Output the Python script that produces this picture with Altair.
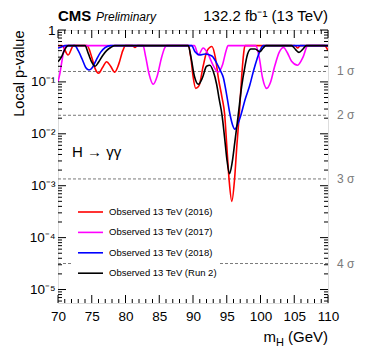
import altair as alt
import pandas as pd

FONT = "Liberation Sans"

names = ["Observed 13 TeV (2016)", "Observed 13 TeV (2017)",
         "Observed 13 TeV (2018)", "Observed 13 TeV (Run 2)"]
colors = ["#ff0000", "#ff00ff", "#0000ff", "#000000"]

m_2016 = [70, 70.6, 71.5, 72.3, 74.3, 75.0, 75.5, 76.0, 76.6, 77.2, 77.8, 78.4, 79.0, 79.6, 80.0,
          81.0, 81.4, 81.8, 89.3, 89.7, 90.0, 90.4, 90.9, 91.5, 92.1, 92.8, 93.3, 93.8, 94.3, 94.7,
          95.0, 95.35, 95.75, 96.15, 96.5, 96.85, 97.2, 97.5, 97.7, 105.1, 105.5, 105.9, 109.5, 110]
p_2016 = [0.5, 0.5, 0.33, 0.5, 0.5, 0.3, 0.18, 0.147, 0.19, 0.245, 0.2, 0.154, 0.22, 0.4, 0.5,
          0.5, 0.46, 0.5, 0.5, 0.28, 0.13, 0.075, 0.085, 0.2, 0.4, 0.48, 0.3, 0.11, 0.05, 0.023,
          0.006, 0.0013, 0.0005, 0.0013, 0.006, 0.023, 0.12, 0.35, 0.5, 0.5, 0.45, 0.5, 0.5, 0.4]

m_2017 = [70, 70.3, 70.6, 70.9, 71.2, 82.6, 83.0, 83.5, 84.1, 84.7, 85.3, 85.8, 86.1, 90.2, 90.8,
          91.5, 92.2, 92.9, 93.7, 94.4, 94.9, 95.2, 99.3, 99.8, 100.3, 100.9, 101.5, 102.1, 102.8,
          103.4, 104.0, 104.6, 105.5, 106.3, 107.0, 110]
p_2017 = [0.1, 0.15, 0.26, 0.42, 0.5, 0.5, 0.3, 0.14, 0.09, 0.13, 0.28, 0.45, 0.5, 0.5, 0.33,
          0.45, 0.35, 0.22, 0.155, 0.22, 0.4, 0.5, 0.5, 0.3, 0.12, 0.075, 0.1, 0.2, 0.38,
          0.46, 0.36, 0.25, 0.21, 0.3, 0.5, 0.5]

m_2018 = [70, 70.5, 71.0, 72.5, 73.0, 73.6, 74.1, 74.6, 75.1, 75.7, 76.3, 77.0, 77.8, 89.8, 90.3,
          91.0, 91.8, 92.8, 93.5, 94.0, 94.5, 95.0, 95.5, 95.85, 96.2, 96.6, 97.1, 97.7, 98.4,
          99.0, 99.5, 100.0, 100.4, 110]
p_2018 = [0.45, 0.47, 0.5, 0.5, 0.4, 0.27, 0.19, 0.17, 0.19, 0.27, 0.37, 0.46, 0.5, 0.5, 0.38,
          0.33, 0.345, 0.315, 0.23, 0.17, 0.12, 0.055, 0.023, 0.015, 0.0123, 0.015, 0.023, 0.045,
          0.085, 0.17, 0.28, 0.42, 0.5, 0.5]

m_run2 = [70, 70.5, 71.0, 71.5, 74.0, 74.5, 75.0, 75.5, 76.0, 76.6, 77.2, 77.8, 78.4, 89.3, 89.7,
          90.2, 90.8, 91.4, 92.0, 92.5, 93.0, 93.5, 93.9, 94.3, 94.7, 95.05, 95.4, 95.8, 96.2,
          96.7, 97.2, 97.7, 98.1, 98.6, 99.2, 99.9, 100.4, 100.8, 104.6, 105.2, 105.7, 106.3,
          106.8, 110]
p_run2 = [0.245, 0.3, 0.42, 0.5, 0.5, 0.35, 0.24, 0.2, 0.24, 0.32, 0.4, 0.46, 0.5, 0.5, 0.3,
          0.13, 0.09, 0.12, 0.2, 0.21, 0.16, 0.09, 0.045, 0.023, 0.008, 0.003, 0.0017, 0.0028,
          0.007, 0.023, 0.08, 0.2, 0.35, 0.43, 0.43, 0.38, 0.45, 0.5, 0.5, 0.42, 0.37, 0.43,
          0.5, 0.5]

sigma_labels = ["1 σ", "2 σ", "3 σ", "4 σ"]
sigma_p = [0.1587, 0.02275, 0.00135, 3.17e-5]

x_labels = [70, 75, 80, 85, 90, 95, 100, 105, 110]
y_labels = [1, 0.1, 0.01, 0.001, 1e-4, 1e-5]

W, H = 270, 273
XMIN, XMAX = 70, 110
YMIN, YMAX = 5.5e-6, 1

series = [(m_2016, p_2016), (m_2017, p_2017), (m_2018, p_2018), (m_run2, p_run2)]
rows = []
for name, (ms, ps) in zip(names, series):
    for m, p in zip(ms, ps):
        rows.append({"series": name, "m": m, "p": p})
df = pd.DataFrame(rows)

xs = alt.Scale(domain=[XMIN, XMAX], nice=False, zero=False)
ys = alt.Scale(type="log", domain=[YMIN, YMAX], nice=False)

x_axis = alt.Axis(values=x_labels, ticks=False, domain=False, grid=False, title=None,
                  labelOverlap=False, labelFlush=False, labelFontSize=13.5, labelPadding=6,
                  labelColor="black", labelFont=FONT)
y_axis = alt.Axis(values=y_labels, ticks=False, domain=False, grid=False,
                  labelOverlap=False, labelFlush=False,
                  labelExpr="['1','10⁻¹','10⁻²','10⁻³','10⁻⁴','10⁻⁵'][round(-log(datum.value)/LN10)]",
                  labelFontSize=13.5, labelPadding=3, labelColor="black", labelFont=FONT,
                  title="Local p-value", titleAnchor="end", titleFontSize=14.5,
                  titleFontWeight="normal", titleFont=FONT, titlePadding=3)

X = lambda f: alt.X(f, scale=xs, axis=x_axis)
Y = lambda f: alt.Y(f, scale=ys, axis=y_axis)

lines = alt.Chart(df).mark_line(strokeWidth=1.6, clip=True, interpolate="monotone").encode(
    x=X("m:Q"), y=Y("p:Q"),
    color=alt.Color("series:N", scale=alt.Scale(domain=names, range=colors), legend=None),
    detail="series:N",
)

GREY = "#7a7a7a"
sig_df = pd.DataFrame({"label": sigma_labels, "p": sigma_p})
sig_lines = alt.Chart(sig_df.iloc[:3]).mark_rule(color=GREY, strokeDash=[3, 2], strokeWidth=1).encode(
    y=Y("p:Q"), x=alt.value(0), x2=alt.value(W))
sig4 = sig_df.iloc[3:]
sig4a = alt.Chart(sig4).mark_rule(color=GREY, strokeDash=[3, 2], strokeWidth=1).encode(
    y=Y("p:Q"), x=alt.value(0), x2=alt.value(14))
sig4b = alt.Chart(sig4).mark_rule(color=GREY, strokeDash=[3, 2], strokeWidth=1).encode(
    y=Y("p:Q"), x=alt.value(162), x2=alt.value(W))
sig_text = alt.Chart(sig_df).mark_text(align="left", baseline="middle", fontSize=12,
                                       color=GREY, font=FONT).encode(
    y=Y("p:Q"), x=alt.value(W + 9), text="label:N")

# ticks (ROOT style, inward, on all four sides)
xt = pd.DataFrame({"m": list(range(XMIN, XMAX + 1))})
xt["major"] = xt["m"] % 5 == 0
yt_vals = []
for k in range(-6, 1):
    for d in range(1, 10):
        v = d * 10.0 ** k
        if YMIN <= v <= YMAX * 1.0001:
            yt_vals.append({"p": v, "major": d == 1})
yt = pd.DataFrame(yt_vals)

def xticks(major, length):
    d = xt[xt["major"] == major]
    b = alt.Chart(d).mark_rule(color="black", strokeWidth=1).encode(
        x=X("m:Q"), y=alt.value(H), y2=alt.value(H - length))
    t = alt.Chart(d).mark_rule(color="black", strokeWidth=1).encode(
        x=X("m:Q"), y=alt.value(0), y2=alt.value(length))
    return b + t

def yticks(major, length):
    d = yt[yt["major"] == major]
    l = alt.Chart(d).mark_rule(color="black", strokeWidth=1).encode(
        y=Y("p:Q"), x=alt.value(0), x2=alt.value(length))
    r = alt.Chart(d).mark_rule(color="black", strokeWidth=1).encode(
        y=Y("p:Q"), x=alt.value(W), x2=alt.value(W - length))
    return l + r

ticks = xticks(True, 8) + xticks(False, 4) + yticks(True, 8) + yticks(False, 4)

one = pd.DataFrame({"a": [0]})

def txt(s, x, y, size, align="left", weight="normal", style="normal", color="black", baseline="alphabetic"):
    return alt.Chart(one).mark_text(text=s, align=align, baseline=baseline, fontSize=size,
                                    fontWeight=weight, fontStyle=style, color=color, font=FONT).encode(
        x=alt.value(x), y=alt.value(y))

texts = (
    txt("CMS", 0, -9, 15, weight="bold")
    + txt("Preliminary", 38, -9, 12, style="italic")
    + txt("132.2 fb⁻¹ (13 TeV)", W, -9, 15, align="right")
    + txt("H → γγ", 14, 127, 15)
    + txt("(GeV)", W, H + 39, 15, align="right")
    + txt("H", W - 44, H + 43, 11, align="right")
    + txt("m", W - 52, H + 39, 15, align="right")
)

leg = None
for i, (n, c) in enumerate(zip(names, colors)):
    yy = 182 + i * 20.4
    seg = alt.Chart(one).mark_rule(color=c, strokeWidth=1.6).encode(
        x=alt.value(20), x2=alt.value(45), y=alt.value(yy))
    lab = alt.Chart(one).mark_text(text=n, align="left", baseline="middle", fontSize=9.5,
                                   color="black", font=FONT).encode(x=alt.value(51), y=alt.value(yy))
    leg = seg + lab if leg is None else leg + seg + lab

chart = alt.layer(sig_lines, sig4a, sig4b, sig_text, lines, ticks, texts, leg).properties(
    width=W, height=H,
    autosize=alt.AutoSizeParams(type="none"),
    padding={"left": 50, "top": 22, "right": 29, "bottom": 46},
).configure_view(stroke="black", strokeWidth=1).configure_axis(labelOverlap=False).configure(font=FONT)

chart.save("out.html", embed_options={"renderer": "svg", "actions": False})
